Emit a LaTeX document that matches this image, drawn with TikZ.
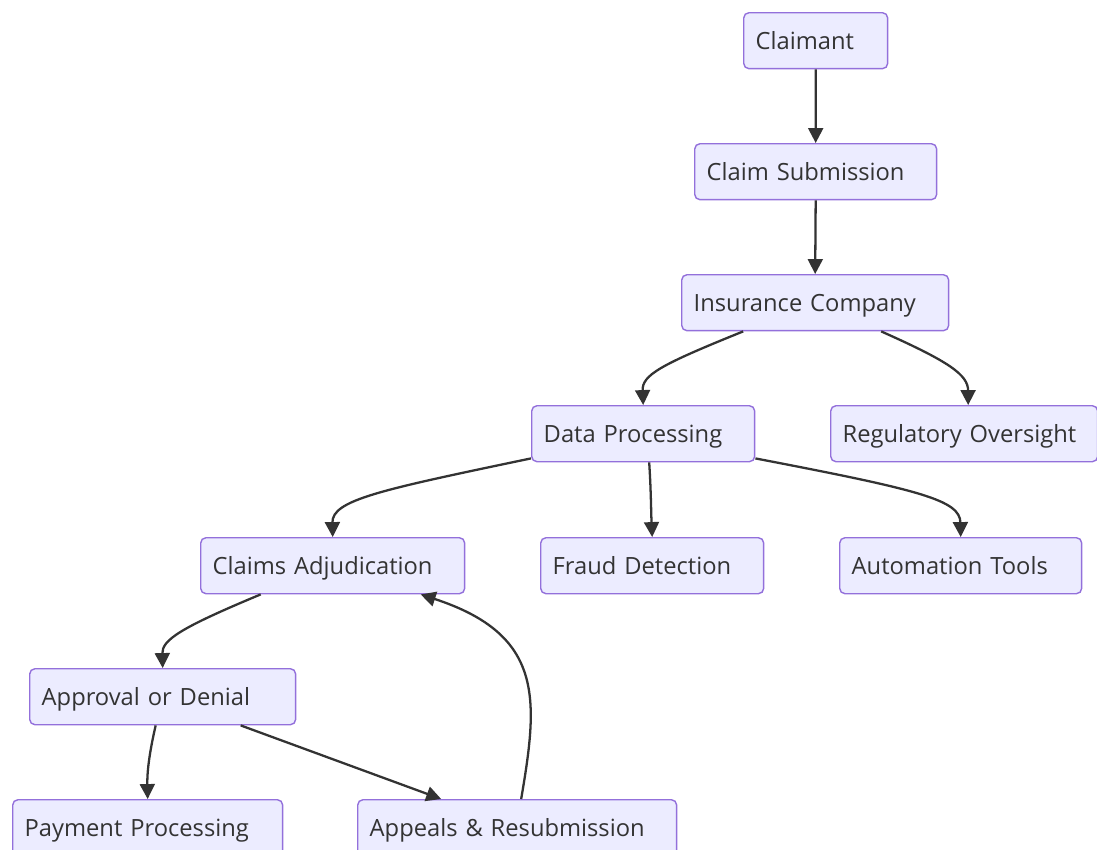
\documentclass[tikz,border=0pt]{standalone}
\usepackage{fontspec}
\setmainfont{Open Sans}
\usepackage{xcolor}
\definecolor{nodefill}{HTML}{ECECFF}
\definecolor{nodeborder}{HTML}{9370DB}
\definecolor{edgegray}{HTML}{333333}
\usepackage{tikz}
\usetikzlibrary{arrows.meta, calc}
\tikzset{
  box/.style  = {rectangle, rounded corners=3pt, draw=nodeborder, line width=0.8pt, fill=nodefill,
                 text=edgegray, font=\fontsize{13.5}{16}\selectfont, align=left, anchor=north west,
                 text height=12pt, text depth=2.5pt,
                 inner xsep=0.24cm, inner ysep=0pt, minimum height=1.12cm},
  conn/.style = {-{Triangle[length=8.5pt, width=8.5pt]}, line width=1.3pt, draw=edgegray},
}

\begin{document}
\begin{tikzpicture}[x=0.02cm, y=-0.02cm]
    \useasboundingbox (0,0) rectangle (1097,849);

    % top chain
    \node[box, text width=2.40cm] (claimant) at (743,12) {Claimant};
    \node[box, text width=4.36cm] (submission) at (694,143) {Claim Submission};
    \node[box, text width=4.86cm] (insurer) at (681,274) {Insurance Company};

    % second level
    \node[box, text width=3.98cm] (dataproc) at (531,405) {Data Processing};
    \node[box, text width=4.86cm] (regulator) at (830,405) {Regulatory Oversight};

    % third level
    \node[box, text width=4.80cm] (adjud) at (200,537) {Claims Adjudication};
    \node[box, text width=3.98cm] (fraud) at (540,537) {Fraud Detection};
    \node[box, text width=4.36cm] (automation) at (839,537) {Automation Tools};

    % decision and outcomes
    \node[box, text width=4.84cm] (decision) at (29,668) {Approval or Denial};
    \node[box, text width=4.92cm] (payment) at (12,799) {Payment Processing};
    \node[box, text width=5.90cm] (appeals) at (357,799) {Appeals \& Resubmission};

    % edges: straight chain
    \draw[conn] (claimant.south) -- (submission.north);
    \draw[conn] (submission.south) -- (insurer.north);

    % edges: insurer -> branches
    \draw[conn] ($(insurer.south)+(-72,0)$) .. controls (660,365) and (642,375) .. (dataproc.north);
    \draw[conn] ($(insurer.south)+(66,0)$) .. controls (950,362) and (968,375) .. ($(regulator.north)+(4,0)$);

    % edges: data processing -> tools
    \draw[conn] ($(dataproc.south west)+(0,-4)$) .. controls (380,490) and (332,500) .. (adjud.north);
    \draw[conn] ($(dataproc.south)+(6,0)$) .. controls (651,490) and (651,510) .. (fraud.north);
    \draw[conn] ($(dataproc.south east)+(0,-4)$) .. controls (920,490) and (960,500) .. (automation.north);

    % edges: adjudication loop
    \draw[conn] ($(adjud.south)+(-72,0)$) .. controls (180,628) and (162,640) .. (decision.north);
    \draw[conn] ($(decision.south)+(-7,0)$) .. controls (150,750) and (147,770) .. (payment.north);
    \draw[conn] ($(decision.south)+(78,0)$) -- ($(appeals.north)+(-76,0)$);
    \draw[conn] ($(appeals.north)+(4,0)$) .. controls (538,700) and (545,635) .. ($(adjud.south)+(88,0)$);
\end{tikzpicture}
\end{document}
